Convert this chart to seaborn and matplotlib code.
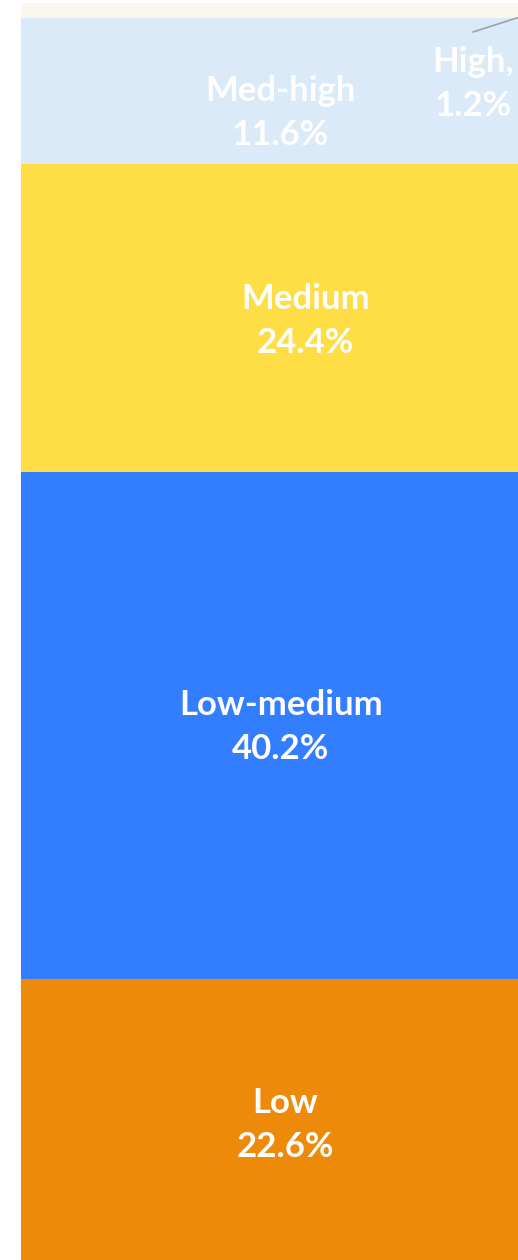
import pandas as pd
import matplotlib
matplotlib.use('Agg')
import matplotlib.pyplot as plt
import seaborn as sns

# shares from bottom to top
levels = ['Low', 'Low-medium', 'Medium', 'Med-high', 'High']
shares = [22.6, 40.2, 24.4, 11.6, 1.2]
colors = ['#EE8A0A', '#337DFF', '#FFDD44', '#DAEAF9', '#FAF8EE']

df = pd.DataFrame({'level': levels, 'share': shares, 'color': colors})
df['top'] = df['share'].cumsum()
df['grp'] = 'all'

sns.set_style('white')
plt.rcParams['font.family'] = ['Lato', 'DejaVu Sans']

fig = plt.figure(figsize=(5.18, 12.6), dpi=100)
ax = fig.add_axes([21 / 518, -4 / 1260, 528 / 518, 1261 / 1260])

# stacked bar: draw cumulative totals from the top down
for i in reversed(range(len(df))):
    sns.barplot(data=df.iloc[[i]], x='grp', y='top', color=df['color'][i],
                width=1.0, saturation=1, ax=ax, linewidth=0)

ax.set_xlim(-0.5, 0.5)
ax.set_ylim(0, 100)
ax.axis('off')

# labels (x offsets, y positions)
lab = {
    'Low': (0.0, 11.0, 'Low\n22.6%'),
    'Low-medium': (-0.008, 42.6, 'Low-medium\n40.2%'),
    'Medium': (0.038, 74.8, 'Medium\n24.4%'),
    'Med-high': (-0.009, 91.3, 'Med-high\n11.6%'),
    'High': (0.356, 93.6, 'High,\n1.2%'),
}
for name, (x, y, s) in lab.items():
    ax.text(x, y, s, ha='center', va='center', color='white', fontsize=25,
            fontweight='bold', linespacing=1.45)

ax.plot([0.356, 0.483], [97.7, 99.4], color='#A0A0A0', lw=1.2)

fig.savefig('out.png', dpi=100)
